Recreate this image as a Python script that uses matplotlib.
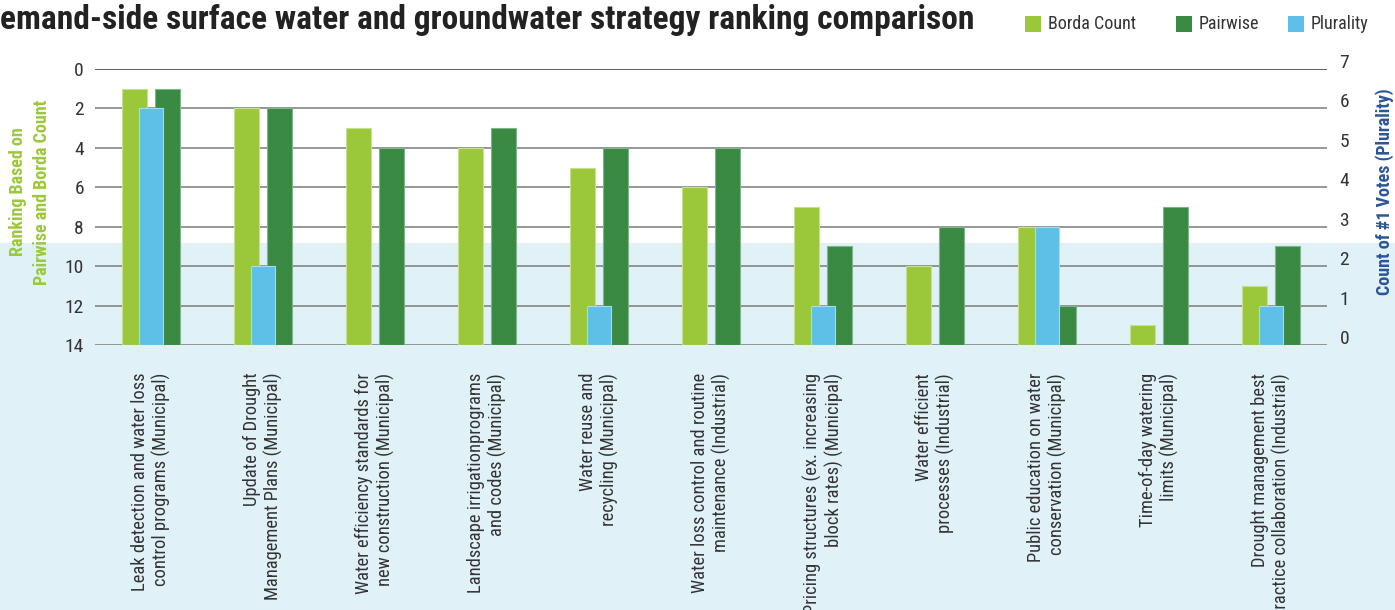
import matplotlib
matplotlib.use("Agg")
import matplotlib.pyplot as plt
from matplotlib import font_manager as fm
from matplotlib.patches import Rectangle
from matplotlib.transforms import ScaledTranslation
import numpy as np

# ---------------- data ----------------
categories = [
    "Leak detection and water loss\ncontrol programs (Municipal)",
    "Update of Drought\nManagement Plans (Municipal)",
    "Water efficiency standards for\nnew construction (Municipal)",
    "Landscape irrigationprograms\nand codes (Municipal)",
    "Water reuse and\nrecycling (Municipal)",
    "Water loss control and routine\nmaintenance (Industrial)",
    "Pricing structures (ex. increasing\nblock rates) (Municipal)",
    "Water efficient\nprocesses (Industrial)",
    "Public education on water\nconservation (Municipal)",
    "Time-of-day watering\nlimits (Municipal)",
    "Drought management best\npractice collaboration (Industrial)",
]
borda = [1, 2, 3, 4, 5, 6, 7, 10, 8, 13, 11]
pairwise = [1, 2, 4, 3, 4, 4, 9, 8, 12, 7, 9]
plurality = [6, 2, 0, 0, 1, 0, 1, 0, 3, 0, 1]
left_ticks = [0, 2, 4, 6, 8, 10, 12, 14]
right_ticks = [0, 1, 2, 3, 4, 5, 6, 7]
title = "emand-side surface water and groundwater strategy ranking comparison"
legend_labels = ["Borda Count", "Pairwise", "Plurality"]

# ---------------- fonts ----------------
def pick_font(bold):
    best = None
    for f in fm.fontManager.ttflist:
        s = f.stretch
        if isinstance(s, str):
            s = fm.stretch_dict.get(s, 500)
        fn = f.fname.lower()
        cond = s <= 400 or "condensed" in fn or "narrow" in fn
        if not cond:
            continue
        if f.style != "normal" or "italic" in fn or "oblique" in fn:
            continue
        if "extracondensed" in fn or "ultracondensed" in fn:
            continue
        w = f.weight
        if isinstance(w, str):
            w = fm.weight_dict.get(w, 400)
        target = 700 if bold else 400
        score = abs(w - target)
        pref = 0
        if "roboto" in fn:
            pref = -30
        elif "narrow" in fn:
            pref = -20
        elif "noto" in fn:
            pref = -10
        sc = score + pref
        if best is None or sc < best[0]:
            best = (sc, f.fname)
    return best[1] if best else None

reg_path = pick_font(False)
bold_path = pick_font(True)

def fp(size, bold=False):
    path = bold_path if bold else reg_path
    if path:
        return fm.FontProperties(fname=path, size=size)
    return fm.FontProperties(family="Roboto", weight="bold" if bold else "normal", size=size)

# ---------------- colours ----------------
c_borda = "#9bc83b"
c_pair = "#3a8a43"
c_plur = "#5ec0e6"
c_bg = "#e0f2f8"
c_text = "#333333"
c_right_label = "#2a5597"

W, H = 1395, 610
fig = plt.figure(figsize=(W / 100, H / 100), dpi=100)
fig.patch.set_facecolor("white")
fig.add_artist(Rectangle((0, 0), 1, (H - 243) / H, transform=fig.transFigure,
                         facecolor=c_bg, edgecolor="none", zorder=-10))

ax = fig.add_axes([95 / W, (H - 345) / H, 1232 / W, 276 / H])
ax.patch.set_visible(False)
ax2 = ax.twinx()
ax2.patch.set_visible(False)

x = np.arange(len(categories))
bw = 0.223
off = 0.143
ax.bar(x - off, [v - 14 for v in borda], bottom=14, width=bw, color=c_borda,
       edgecolor="#c5e08e", linewidth=0.8, zorder=3)
ax.bar(x + off, [v - 14 for v in pairwise], bottom=14, width=bw, color=c_pair,
       edgecolor="#7fb486", linewidth=0.8, zorder=3)
ax2.bar(x, plurality, width=0.214, color=c_plur, edgecolor="#a3dcf0",
        linewidth=0.8, zorder=3)

ax.set_xlim(-0.5, len(categories) - 0.5)
ax.set_ylim(14, 0)
ax2.set_ylim(0, 7)
ax.set_yticks(left_ticks)
ax2.set_yticks(right_ticks)
for v in left_ticks:
    ax.axhline(v, color="#7a7a7a" if v != 0 else "#333333", lw=1.1, zorder=1)

for a in (ax, ax2):
    for s in a.spines.values():
        s.set_visible(False)
ax.tick_params(axis="y", length=0, pad=8, colors=c_text)
ax2.tick_params(axis="y", length=0, pad=9, colors=c_text)
ax.tick_params(axis="x", length=0, pad=20)

for lab in ax.get_yticklabels():
    lab.set_fontproperties(fp(14))
for lab in ax2.get_yticklabels():
    lab.set_fontproperties(fp(14))
    lab.set_transform(lab.get_transform() + ScaledTranslation(0, 8 / 100, fig.dpi_scale_trans))

ax.set_xticks(x)
ax.set_xticklabels(categories, rotation=90, ha="center", va="top",
                   multialignment="right", color=c_text)
for lab in ax.get_xticklabels():
    lab.set_fontproperties(fp(13.3))
    lab.set_linespacing(1.2)

# axis labels
fig.text(30 / W, 1 - 192 / H, "Ranking Based on\nPairwise and Borda Count", rotation=90,
         ha="center", va="center", color=c_borda, fontproperties=fp(13, True),
         multialignment="center", linespacing=1.4)
fig.text(1385 / W, 1 - 192 / H, "Count of #1 Votes (Plurality)", rotation=90,
         ha="center", va="center", color=c_right_label, fontproperties=fp(13, True))

# title, scaled to the width seen in the reference
t = fig.text(0, 1 - 20 / H, title, ha="left", va="center", color="#222222",
             fontproperties=fp(22, True))
fig.canvas.draw()
wpx = t.get_window_extent().width
t.set_fontproperties(fp(22 * 975 / wpx, True))

# legend
lx_sq = [1025, 1176, 1288]
lx_tx = [1048, 1199, 1311]
for sx, tx, lab, col in zip(lx_sq, lx_tx, legend_labels, [c_borda, c_pair, c_plur]):
    fig.add_artist(Rectangle((sx / W, 1 - 32 / H), 16 / W, 16 / H, transform=fig.transFigure,
                             facecolor=col, edgecolor="none"))
    fig.text(tx / W, 1 - 24 / H, lab, ha="left", va="center", color=c_text,
             fontproperties=fp(13))

fig.savefig("out.png", dpi=100)
